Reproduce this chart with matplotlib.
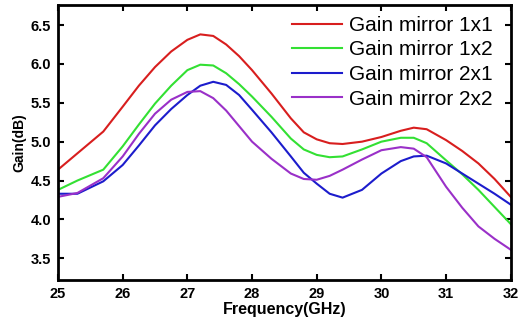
import matplotlib.pyplot as plt

# frequency points (GHz)
freq = [25.0, 25.3, 25.7, 26.0, 26.25, 26.5, 26.75, 27.0, 27.2, 27.4, 27.6, 27.8,
        28.0, 28.3, 28.6, 28.8, 29.0, 29.2, 29.4, 29.7, 30.0, 30.3, 30.5, 30.7,
        31.0, 31.25, 31.5, 31.75, 32.0]

gain_1x1 = [4.64, 4.85, 5.13, 5.45, 5.72, 5.96, 6.16, 6.31, 6.38, 6.36, 6.25, 6.10,
            5.92, 5.62, 5.30, 5.12, 5.03, 4.98, 4.97, 5.00, 5.06, 5.14, 5.18, 5.16,
            5.02, 4.88, 4.72, 4.52, 4.29]
gain_1x2 = [4.38, 4.50, 4.64, 4.94, 5.22, 5.49, 5.72, 5.92, 5.99, 5.98, 5.88, 5.74,
            5.58, 5.32, 5.04, 4.90, 4.83, 4.80, 4.81, 4.90, 5.00, 5.05, 5.05, 4.98,
            4.76, 4.58, 4.38, 4.16, 3.94]
gain_2x1 = [4.33, 4.33, 4.49, 4.70, 4.95, 5.21, 5.42, 5.60, 5.72, 5.77, 5.73, 5.60,
            5.41, 5.12, 4.81, 4.60, 4.46, 4.33, 4.28, 4.38, 4.59, 4.75, 4.81, 4.82,
            4.72, 4.59, 4.46, 4.33, 4.19]
gain_2x2 = [4.29, 4.34, 4.53, 4.81, 5.10, 5.36, 5.54, 5.64, 5.65, 5.56, 5.40, 5.20,
            5.00, 4.78, 4.59, 4.52, 4.51, 4.56, 4.64, 4.77, 4.89, 4.93, 4.91, 4.80,
            4.42, 4.15, 3.91, 3.75, 3.61]

labels = ['Gain mirror 1x1', 'Gain mirror 1x2', 'Gain mirror 2x1', 'Gain mirror 2x2']
colors = ['#d81e1e', '#33e033', '#1c1ccc', '#9a30c8']

fig = plt.figure(figsize=(5.18, 3.23), dpi=100)
ax = fig.add_axes([0.112, 0.133, 0.874, 0.852])

for g, lab, c in zip([gain_1x1, gain_1x2, gain_2x1, gain_2x2], labels, colors):
    ax.plot(freq, g, color=c, lw=1.5, label=lab)

ax.set_xlim(25, 32)
ax.set_ylim(3.22, 6.76)
ax.set_xticks(range(25, 33))
ax.set_yticks([3.5, 4.0, 4.5, 5.0, 5.5, 6.0, 6.5])
ax.set_yticklabels(['3.5', '4.0', '4.5', '5.0', '5.5', '6.0', '6.5'])

ax.tick_params(direction='in', top=True, right=True, length=4, width=1.5,
               labelsize=10.5, pad=5)
for lbl in ax.get_xticklabels() + ax.get_yticklabels():
    lbl.set_fontweight('bold')
    lbl.set_family('Liberation Sans')
for s in ax.spines.values():
    s.set_linewidth(2)

ax.set_xlabel('Frequency(GHz)', fontsize=11.5, fontweight='bold',
              family='Liberation Sans', labelpad=1)
ax.set_ylabel('Gain(dB)', fontsize=10, fontweight='bold',
              family='Liberation Sans', labelpad=3)

ax.legend(loc='upper right', frameon=False, prop={'family': 'Liberation Sans', 'size': 15},
          handlelength=2.4, handletextpad=0.33, labelspacing=0.27,
          borderaxespad=0.1, bbox_to_anchor=(0.984, 0.998))

fig.savefig('out.png', dpi=100)
